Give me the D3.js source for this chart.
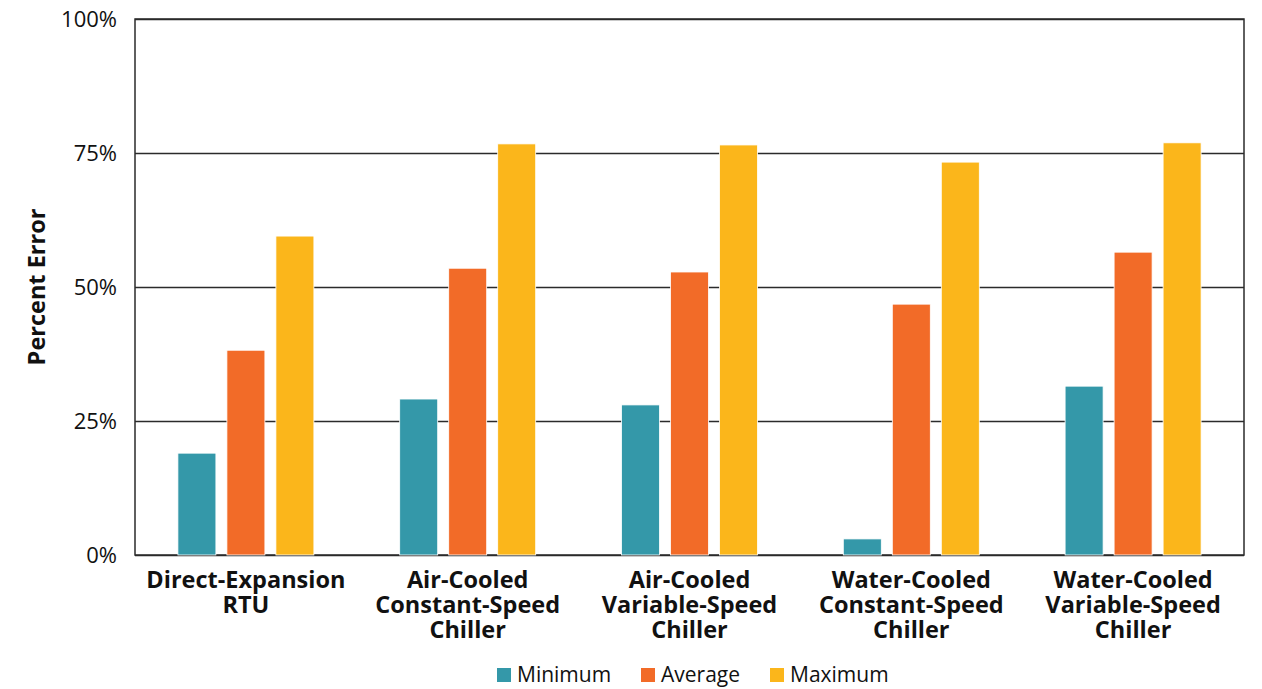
<!DOCTYPE html>
<html>
<head>
<meta charset="utf-8">
<script src="https://cdn.jsdelivr.net/npm/d3@7"></script>
<style>
  body { margin: 0; background: #fff; }
  text { font-family: "Open Sans", sans-serif; fill: #111; }
</style>
</head>
<body>
<div id="chart"></div>
<script>
const categories = [
  ['Direct-Expansion', 'RTU'],
  ['Air-Cooled', 'Constant-Speed', 'Chiller'],
  ['Air-Cooled', 'Variable-Speed', 'Chiller'],
  ['Water-Cooled', 'Constant-Speed', 'Chiller'],
  ['Water-Cooled', 'Variable-Speed', 'Chiller']
];
const seriesNames = ['Minimum', 'Average', 'Maximum'];
const minimum = [0.190, 0.291, 0.280, 0.030, 0.315];
const average = [0.382, 0.535, 0.528, 0.468, 0.565];
const maximum = [0.595, 0.767, 0.765, 0.733, 0.769];
const yTicks = [0, 0.25, 0.5, 0.75, 1];
const colors = ['#3498a9', '#f26b28', '#fbb61b'];

const width = 1262, height = 689;
const mLeft = 135, mRight = 1244, mTop = 19, mBottom = 555;

const values = [minimum, average, maximum];
const keys = categories.map(c => c.join(' '));

const svg = d3.select('#chart').append('svg')
  .attr('width', width)
  .attr('height', height);

const x0 = d3.scaleBand().domain(keys).range([mLeft, mRight]);
const groupWidth = 136;
const x1 = d3.scaleBand().domain(seriesNames).range([0, groupWidth]).paddingInner(11 / 49);
const y = d3.scaleLinear().domain([0, 1]).range([mBottom, mTop]);

// gridlines + y labels
const yAxis = svg.append('g')
  .attr('transform', `translate(${mLeft},0)`)
  .call(d3.axisLeft(y).tickValues(yTicks).tickFormat(d3.format('.0%')).tickSize(-(mRight - mLeft)).tickPadding(18));
yAxis.select('.domain').remove();
yAxis.selectAll('.tick line').attr('stroke', '#2b2b2b').attr('stroke-width', 1.3);
yAxis.selectAll('.tick text')
  .style('font-size', '22px')
  .style('font-family', '"Open Sans", sans-serif')
  .attr('fill', '#111');

// frame
svg.append('rect')
  .attr('x', mLeft).attr('y', mTop)
  .attr('width', mRight - mLeft).attr('height', mBottom - mTop)
  .attr('fill', 'none').attr('stroke', '#2b2b2b').attr('stroke-width', 1.5);

// bars
const groups = svg.append('g').selectAll('g')
  .data(keys)
  .join('g')
  .attr('transform', d => `translate(${x0(d) + (x0.bandwidth() - groupWidth) / 2},0)`);

groups.selectAll('rect')
  .data((d, i) => seriesNames.map((s, j) => ({ s, v: values[j][i], j })))
  .join('rect')
  .attr('x', d => x1(d.s))
  .attr('y', d => y(d.v))
  .attr('width', x1.bandwidth())
  .attr('height', d => y(0) - y(d.v))
  .attr('fill', d => colors[d.j])
  .attr('stroke', '#fff')
  .attr('stroke-width', 0.8);

// category labels
const xl = svg.append('g');
categories.forEach((lines, i) => {
  const cx = x0(keys[i]) + x0.bandwidth() / 2;
  const t = xl.append('text')
    .attr('text-anchor', 'middle')
    .attr('x', cx)
    .attr('y', 588)
    .style('font-size', '23.5px')
    .style('font-weight', 'bold');
  lines.forEach((l, k) => {
    t.append('tspan')
      .attr('x', cx)
      .attr('dy', k === 0 ? 0 : 25)
      .text(l);
  });
});

// y title
svg.append('text')
  .attr('transform', `translate(45,${(mTop + mBottom) / 2}) rotate(-90)`)
  .attr('text-anchor', 'middle')
  .style('font-size', '23.5px')
  .style('font-weight', 'bold')
  .text('Percent Error');

// legend
const legendX = [497, 641, 770];
const legend = svg.append('g');
seriesNames.forEach((s, i) => {
  legend.append('rect')
    .attr('x', legendX[i]).attr('y', 668)
    .attr('width', 14).attr('height', 14)
    .attr('fill', colors[i]);
  legend.append('text')
    .attr('x', legendX[i] + 20).attr('y', 682)
    .style('font-size', '21px')
    .text(s);
});
</script>
</body>
</html>
